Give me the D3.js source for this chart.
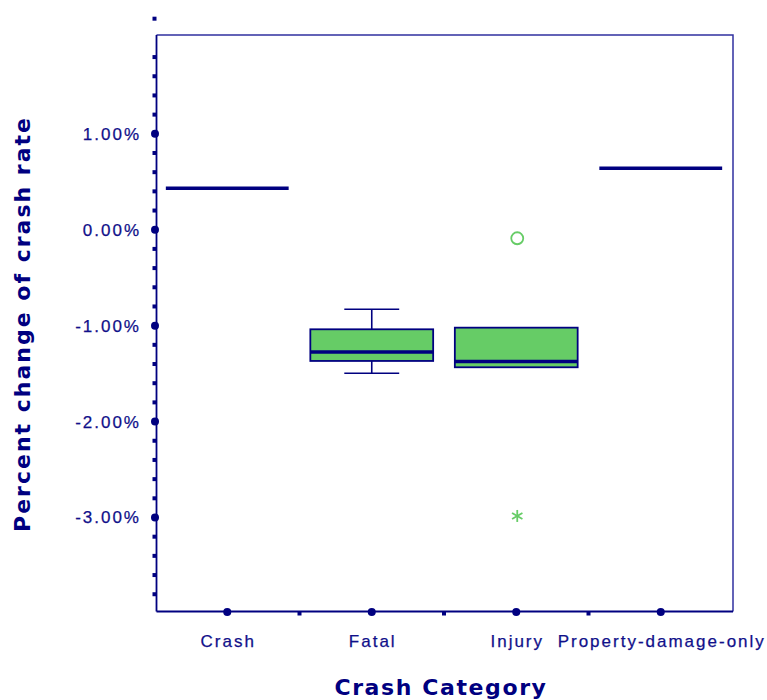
<!DOCTYPE html>
<html>
<head>
<meta charset="utf-8">
<script src="https://cdn.jsdelivr.net/npm/d3@7"></script>
<style>
  html, body { margin: 0; padding: 0; background: #ffffff; }
  svg { display: block; }
</style>
</head>
<body>
<svg id="chart" width="767" height="700"></svg>
<script>
// ---- data ----
const categories = ["Crash", "Fatal", "Injury", "Property-damage-only"];
const medians     = [0.433, -1.274, -1.375, 0.641];
const q1Values    = [0.433, -1.368, -1.434, 0.641];
const q3Values    = [0.433, -1.038, -1.021, 0.641];
const whiskerLow  = [null, -1.496, -1.434, null];
const whiskerHigh = [null, -0.829, -1.021, null];
const outlierCategories = ["Injury"];
const outlierValues     = [-0.089];
const extremeCategories = ["Injury"];
const extremeValues     = [-2.984];
const majorTicks = [1, 0, -1, -2, -3];
const majorTickLabels = ["1.00%", "0.00%", "-1.00%", "-2.00%", "-3.00%"];
const minorTicks = [2.2, 1.8, 1.6, 1.4, 1.2, 0.8, 0.6, 0.4, 0.2, -0.2, -0.4, -0.6, -0.8,
  -1.2, -1.4, -1.6, -1.8, -2.2, -2.4, -2.6, -2.8, -3.2, -3.4, -3.6, -3.8];
const yDomain = [-3.98, 2.03];

// ---- layout ----
const navy = "#000080";
const textNavy = "#10108a";
const green = "#66cc66";
const frame = { left: 156.5, right: 733, top: 35, bottom: 611.5 };
const svg = d3.select("#chart");

const x = d3.scaleBand().domain(categories).range([frame.left - 1.5, frame.right]).padding(0);
const y = d3.scaleLinear().domain(yDomain).range([frame.bottom, frame.top]);
const bw = x.bandwidth();
const boxW = bw * 0.85;
const capW = bw * 0.38;
const cx = c => x(c) + bw / 2;

// frame top/right
svg.append("path")
  .attr("d", `M${frame.left},${frame.top}H${frame.right}V${frame.bottom}`)
  .attr("fill", "none").attr("stroke", "#3030a0").attr("stroke-width", 1.5);
// left axis
svg.append("line").attr("x1", frame.left).attr("x2", frame.left)
  .attr("y1", frame.top).attr("y2", frame.bottom)
  .attr("stroke", navy).attr("stroke-width", 1.8);
// bottom axis
svg.append("line").attr("x1", frame.left).attr("x2", frame.right)
  .attr("y1", frame.bottom).attr("y2", frame.bottom)
  .attr("stroke", navy).attr("stroke-width", 1.8);

// y minor ticks
svg.append("g").selectAll("rect").data(minorTicks).join("rect")
  .attr("x", frame.left - 4).attr("y", d => y(d) - 2)
  .attr("width", 4).attr("height", 4).attr("fill", navy);
// y major ticks
svg.append("g").selectAll("circle").data(majorTicks).join("circle")
  .attr("cx", frame.left - 1.5).attr("cy", d => y(d)).attr("r", 4).attr("fill", navy);
svg.append("g").selectAll("text").data(majorTicks).join("text")
  .attr("x", 141).attr("y", d => y(d) + 6)
  .attr("text-anchor", "end")
  .attr("font-family", "'Liberation Sans', Arial, sans-serif")
  .attr("font-size", 17).attr("letter-spacing", "2px")
  .attr("fill", textNavy).attr("stroke", textNavy).attr("stroke-width", 0.25)
  .text((d, i) => majorTickLabels[i]);

// x ticks
svg.append("g").selectAll("circle").data(categories).join("circle")
  .attr("cx", d => cx(d)).attr("cy", frame.bottom + 0.5).attr("r", 4).attr("fill", navy);
svg.append("g").selectAll("rect").data(categories.slice(1)).join("rect")
  .attr("x", d => x(d) - 2).attr("y", frame.bottom)
  .attr("width", 4).attr("height", 4).attr("fill", navy);
svg.append("g").selectAll("text").data(categories).join("text")
  .attr("x", d => cx(d) + 1).attr("y", 647)
  .attr("text-anchor", "middle")
  .attr("font-family", "'Liberation Sans', Arial, sans-serif")
  .attr("font-size", 17).attr("letter-spacing", "2px")
  .attr("fill", textNavy).attr("stroke", textNavy).attr("stroke-width", 0.25)
  .text(d => d);

// axis titles
svg.append("text")
  .attr("x", 441).attr("y", 695)
  .attr("text-anchor", "middle")
  .attr("font-family", "'DejaVu Sans', Verdana, sans-serif")
  .attr("font-weight", "bold").attr("font-size", 22).attr("letter-spacing", "1.6px")
  .attr("fill", navy)
  .text("Crash Category");
svg.append("text")
  .attr("transform", "translate(30,324) rotate(-90)")
  .attr("text-anchor", "middle")
  .attr("font-family", "'DejaVu Sans', Verdana, sans-serif")
  .attr("font-weight", "bold").attr("font-size", 22).attr("letter-spacing", "2px")
  .attr("fill", navy)
  .text("Percent change of crash rate");

// boxes
const g = svg.append("g");
categories.forEach((c, i) => {
  const xc = cx(c);
  if (whiskerLow[i] !== null && whiskerLow[i] < q1Values[i]) {
    g.append("line").attr("x1", xc).attr("x2", xc)
      .attr("y1", y(q1Values[i])).attr("y2", y(whiskerLow[i]))
      .attr("stroke", navy).attr("stroke-width", 1.6);
    g.append("line").attr("x1", xc - capW / 2).attr("x2", xc + capW / 2)
      .attr("y1", y(whiskerLow[i])).attr("y2", y(whiskerLow[i]))
      .attr("stroke", navy).attr("stroke-width", 1.6);
  }
  if (whiskerHigh[i] !== null && whiskerHigh[i] > q3Values[i]) {
    g.append("line").attr("x1", xc).attr("x2", xc)
      .attr("y1", y(q3Values[i])).attr("y2", y(whiskerHigh[i]))
      .attr("stroke", navy).attr("stroke-width", 1.6);
    g.append("line").attr("x1", xc - capW / 2).attr("x2", xc + capW / 2)
      .attr("y1", y(whiskerHigh[i])).attr("y2", y(whiskerHigh[i]))
      .attr("stroke", navy).attr("stroke-width", 1.6);
  }
  if (q3Values[i] > q1Values[i]) {
    g.append("rect")
      .attr("x", xc - boxW / 2).attr("width", boxW)
      .attr("y", y(q3Values[i])).attr("height", y(q1Values[i]) - y(q3Values[i]))
      .attr("fill", green).attr("stroke", navy).attr("stroke-width", 1.8);
  }
  g.append("line").attr("x1", xc - boxW / 2).attr("x2", xc + boxW / 2)
    .attr("y1", y(medians[i])).attr("y2", y(medians[i]))
    .attr("stroke", navy).attr("stroke-width", 3.5);
});

// outliers
svg.append("g").selectAll("circle").data(outlierValues).join("circle")
  .attr("cx", (d, i) => cx(outlierCategories[i]) + 1).attr("cy", d => y(d))
  .attr("r", 6).attr("fill", "none").attr("stroke", green).attr("stroke-width", 1.8);
extremeValues.forEach((v, i) => {
  const sx = cx(extremeCategories[i]) + 1, sy = y(v);
  const s = svg.append("g").attr("transform", `translate(${sx},${sy})`)
    .attr("stroke", green).attr("stroke-width", 1.8);
  [0, 60, 120].forEach(a => {
    s.append("line").attr("x1", 0).attr("y1", -6).attr("x2", 0).attr("y2", 6)
      .attr("transform", `rotate(${a})`);
  });
});
</script>
</body>
</html>
